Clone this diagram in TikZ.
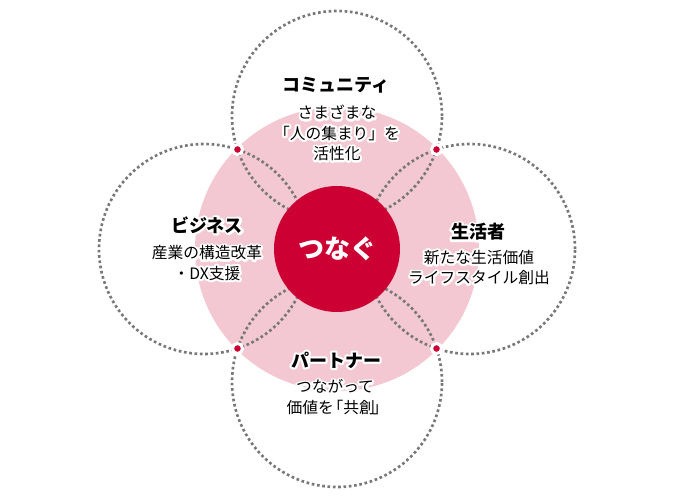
\documentclass[tikz,border=0pt]{standalone}
\usepackage{fontspec}
\newfontfamily\jp{Noto Sans CJK JP}
\usetikzlibrary{calc}
\definecolor{pinkbg}{HTML}{F4C8D2}
\definecolor{corered}{HTML}{CC0033}
\definecolor{dotgray}{HTML}{787878}
\tikzset{
  ringc/.style={circle, draw=dotgray, line width=2pt, dash pattern=on 2pt off 2pt,
    minimum size=157.5pt, inner sep=0pt, outer sep=0pt},
  joint/.style={circle, fill=corered, draw=white, line width=2.25pt,
    minimum size=7.5pt, inner sep=0pt},
  ttl/.style={font=\jp\bfseries\fontsize{13.5}{16}\selectfont, inner sep=0pt, align=center},
  bdy/.style={font=\jp\fontsize{11.8}{15.2}\selectfont, inner sep=0pt, align=center},
  halo/.style={text=white,
    execute at begin node={\special{pdf:literal direct 1 Tr 3.2 w 1 j 1 J}},
    execute at end node={\special{pdf:literal direct 0 Tr}}},
}
\newcommand\halonode[4]{%
  \node[#1,halo] (#2h) at (#3) {#4};
  \node[#1] (#2) at (#3) {#4};
}
\begin{document}
\begin{tikzpicture}[x=0.75pt,y=-0.75pt]
\useasboundingbox (0,0) rectangle (676,500);
\coordinate (C) at (337,249);
\node[circle, fill=pinkbg, minimum size=213pt, inner sep=0pt] (bg) at (C) {};
\node[ringc] (rt) at (337,116) {};
\node[ringc] (rb) at (337,382) {};
\node[ringc] (rl) at (204,249) {};
\node[ringc] (rr) at (470,249) {};
\node[circle, fill=corered, minimum size=94.5pt, inner sep=0pt,
  font=\jp\bfseries\fontsize{19.5}{22}\selectfont, text=white] (core) at (C) {つなぐ};
\node[joint] (jtl) at (237.5,149.5) {};
\node[joint] (jtr) at (436.5,149.5) {};
\node[joint] (jbl) at (237.5,348.5) {};
\node[joint] (jbr) at (436.5,348.5) {};
\halonode{ttl}{tt}{336,85}{コミュニティ}
\halonode{bdy}{tb}{337,133}{さまざまな\\「人の集まり」を\\活性化}
\halonode{ttl}{lt}{207,225}{ビジネス}
\halonode{bdy}{lb}{207,263}{産業の構造改革\\・DX支援}
\halonode{ttl}{rtt}{478,232}{生活者}
\halonode{bdy}{rbb}{479,267.5}{新たな生活価値\\ライフスタイル創出}
\halonode{ttl}{bt}{336,360}{パートナー}
\halonode{bdy}{bb}{335,397}{つながって\\価値を\kern-0.4em「共創\kern-0.15em」\kern-0.3em}
\end{tikzpicture}
\end{document}
